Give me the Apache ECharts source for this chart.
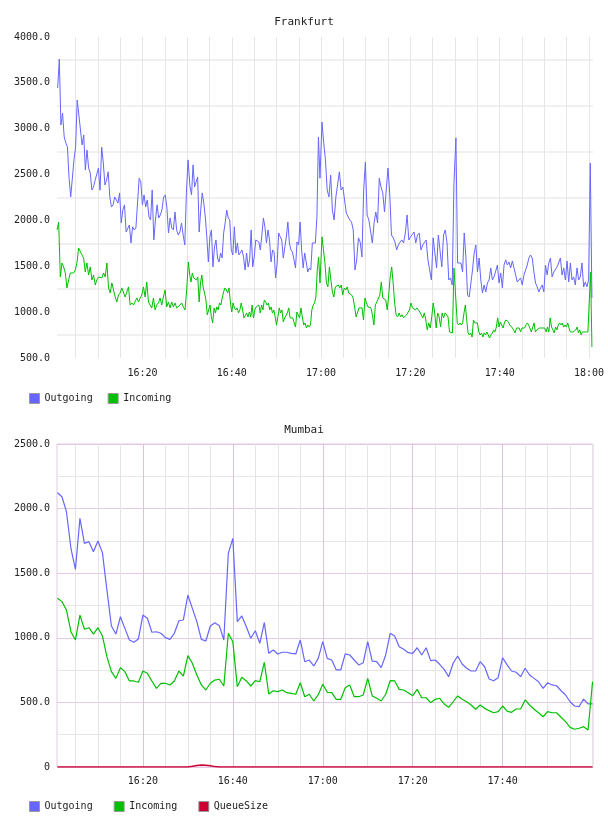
<!DOCTYPE html>
<html>
<head>
<meta charset="utf-8">
<script src="https://cdn.jsdelivr.net/npm/echarts@6/dist/echarts.min.js"></script>
<style>
  html, body { margin: 0; padding: 0; background: #fff; }
  #chart { width: 608px; height: 816px; }
</style>
</head>
<body>
<div id="chart"></div>
<script>
// Frankfurt, sampled roughly every 20 s, split in four stretches (minutes after 16:00)
const frOutA = [3444,3760,3040,3170,2910,2845,2800,2460,2256,2245,2660,2800,3313,3150,3150,2823,2932,2550,2768,2572,2517,2332,2365,2440,2460,2570,2330,2800,2626,2386,2440,2530,2256,2147,2170,2256,2245,2190,2300,1972,2114,2170,1874,1874,1950,1754,1930,1896,1918,1930,2460,2420,2170,2278,2147,2223,2038,2005,2332,1787,2005,2170,2027,2060,2114,2256,2278,2147,1863,2027,1918,1896,2092,1896,1841,1874,1972,1841,1733,2300,2660];
const frOutB = [2365,2278,2605,2365,2420,2474,1874,2114,2300,2190,2038,1820,1547,1820,1896,1493,1710,1787,1590,1547,1645,1590,1863,1972,2114,2027,2005,1678,1624,1930,1645,1754,1624,1645,1678,1602,1460,1645,1493,1570,1896,1493,1602,1787,1787,1765,1678,1841,2027,1930,1754,1896,1787,1547,1678,1656,1373,1536,1863,1820,1787,1590,1602,1820,1983,1754,1678,1656,1570,1482,1765,1733,1983,1678,1482,1645,1547,1438,1482,1460,1754,1765,1754,2038,2910,2460];
const frOutC = [3073,2845,2660,2332,2256,2495,2114,2005,2256,2245,2530,2332,2365,2365,2080,2060,2005,1983,1896,1460,1570,1810,1765,1602,2332,2637,2060,2005,2005,1754,1972,2092,1972,2460,2365,2300,2092,2332,2572,2300,1841,1810,1765,1678,1733,1765,1787,1754,1863,2060,1787,1820,1810,1874,1754,1841,1863,1678,1733,1754,1787,1570,1460,1351,1810,1820,1482,1841,1820,1493,1841,1896,1754,1351,1373,1296,2410];
const frOutD = [2900,1536,1536,1536,1438,1863,1602,1187,1165,1154,1460,1645,1733,1438,1590,1351,1209,1296,1220,1318,1351,1482,1351,1384,1384,1514,1318,1427,1264,1514,1570,1514,1547,1482,1558,1482,1493,1329,1318,1373,1296,1405,1460,1514,1590,1624,1590,1438,1318,1275,1220,1264,1296,1220,1514,1405,1536,1590,1384,1438,1438,1493,1514,1590,1405,1482,1351,1558,1329,1536,1351,1384,1296,1482,1351,1384,1536,1275,1329,1275,1351,2626,1154];
const frOutSpans = [[1.0, 30.2], [30.64, 59.75], [60.2, 89.76], [90.2, 120.66]];

const frInA = [1896,1983,1384,1536,1493,1427,1264,1351,1427,1438,1427,1460,1536,1700,1700,1624,1590,1438,1536,1405,1493,1351,1405,1296,1351,1384,1384,1373,1427,1384,1536,1264,1209,1318,1242,1165,1111,1187,1209,1264,1264,1165,1220,1275,1078,1100,1078,1057,1154,1111,1154,1187,1275,1165,1329,1111,1078,1046,1154,1024,1078,1100,1154,1078,1165,1242,1057,1111,1046,1111,1057,1100,1046,1057,1078,1100,1057,1024,1242,1547,1384];
const frInB = [1329,1427,1373,1384,1351,1384,1111,1318,1405,1264,1209,1133,970,1024,1078,948,882,1046,991,1057,1024,1100,1078,1154,1220,1264,1242,1209,1264,1111,1002,1100,1046,1024,1046,991,1024,1100,1024,937,937,991,948,1002,948,1078,937,1024,1057,1057,1078,991,1078,1024,1133,1111,1078,1100,1024,1057,991,1024,948,860,948,1046,991,1024,893,937,948,991,1046,937,948,937,882,838,1002,991,937,1046,948,860,882,827,860,838,860,1024,1078,1100,1165,1460,1602,1318];
const frInC = [1820,1678,1536,1318,1275,1493,1351,1220,1165,1275,1264,1296,1264,1296,1187,1264,1242,1275,1209,1209,1187,1154,1057,948,937,1046,1057,1046,915,1154,1100,1057,1057,1046,970,860,1078,1111,1100,1187,1329,1154,1165,1133,1024,1187,1384,1493,1318,1100,970,948,991,948,970,937,948,970,991,1024,1100,1046,1046,1024,1046,1024,1002,991,937,991,915,806,882,827,948,1100,991,827,991,948,838,991,937,991,991,948,784,773,773,1482];
const frInD = [1482,882,860,882,860,882,991,1078,915,773,751,773,729,915,882,893,882,784,751,773,729,773,751,784,751,718,751,773,806,784,838,937,838,893,860,827,882,915,915,893,860,860,827,827,773,827,806,827,784,827,838,827,860,882,860,860,784,773,882,784,806,806,827,806,827,806,827,784,838,784,937,838,806,773,838,806,860,882,860,882,838,860,838,882,827,784,773,784,773,806,838,773,806,751,784,773,784,773,784,773,1438,620];
const frInSpans = [[0.85, 30.64], [30.86, 59.75], [60.2, 89.76], [90.2, 120.66]];

// Mumbai, one sample per minute from 16:01 to 18:00
const mumOut = [2123,2092,1976,1693,1530,1925,1731,1744,1666,1749,1659,1370,1091,1029,1163,1073,983,965,991,1176,1151,1043,1047,1035,1001,988,1035,1132,1138,1331,1228,1125,988,975,1091,1117,1094,983,1654,1770,1125,1169,1086,996,1055,957,1117,880,906,875,888,888,880,875,983,815,828,782,841,970,841,828,751,751,875,867,828,790,807,970,820,815,769,867,1035,1014,931,911,885,880,923,867,923,823,828,795,756,699,803,859,797,764,743,743,815,776,681,668,691,846,790,743,733,699,764,712,686,660,609,652,635,629,590,557,505,472,467,526,488,488];
const mumIn = [1306,1280,1215,1047,983,1176,1066,1078,1029,1078,1014,854,738,686,769,738,666,666,656,743,725,666,609,648,648,635,666,743,704,862,803,712,635,596,648,673,679,627,1035,970,622,694,666,627,668,660,810,565,590,583,596,575,570,563,652,544,563,511,560,640,578,575,524,524,614,635,544,544,557,686,550,532,511,563,668,666,601,596,575,552,601,536,536,498,524,532,488,462,505,550,524,505,480,447,480,454,436,420,428,472,433,423,449,449,519,480,447,420,389,428,420,420,385,351,307,292,300,312,286,660];
const mumQueue = [
  0,0,0,0,0,0,0,0,0,0,0,0,0,0,0,0,0,0,0,0,
  0,0,0,0,0,0,0,0,0,0,5,12,15,14,10,3,0,0,0,0,
  0,0,0,0,0,0,0,0,0,0,0,0,0,0,0,0,0,0,0,0,
  0,0,0,0,0,0,0,0,0,0,0,0,0,0,0,0,0,0,0,0,
  0,0,0,0,0,0,0,0,0,0,0,0,0,0,0,0,0,0,0,0,
  0,0,0,0,0,0,0,0,0,0,0,0,0,0,0,0,0,0,0,0
];
const mumStart = 1; // first sample at 16:01

// axis ticks (minutes after 16:00)
const gridMinutes = [5,10,15,20,25,30,35,40,45,50,55,60,65,70,75,80,85,90,95,100,105,110,115,120];
const majorMinutes = [20, 40, 60, 80, 100];
const frLabelMinutes = [20, 40, 60, 80, 100, 120];
const mumLabelMinutes = [20, 40, 60, 80, 100];

const BLUE = '#6666ff', GREEN = '#00c000', RED = '#cc0033';
const MONO = 'DejaVu Sans Mono';

function spread(vals, span) {
  const step = (span[1] - span[0]) / (vals.length - 1);
  return vals.map((v, i) => [span[0] + i * step, v]);
}
function join(parts, spans) {
  let out = [];
  parts.forEach((p, i) => { out = out.concat(spread(p, spans[i])); });
  return out;
}
function hhmm(m) {
  const h = 16 + Math.floor(m / 60), mm = Math.round(m % 60);
  return h + ':' + (mm < 10 ? '0' + mm : mm);
}
function yfmt(v) { return v === 0 ? '0' : v.toFixed(1); }

const frOut = join([frOutA, frOutB, frOutC, frOutD], frOutSpans);
const frIn = join([frInA, frInB, frInC, frInD], frInSpans);
const perMinute = arr => arr.map((v, i) => [mumStart + i, v]);

const labelStyle = { color: '#222', fontFamily: MONO, fontSize: 10 };

const chart = echarts.init(document.getElementById('chart'));
chart.setOption({
  animation: false,
  backgroundColor: '#fff',
  title: [
    { text: 'Frankfurt', left: 'center', top: 12, textStyle: { fontFamily: MONO, fontSize: 11, fontWeight: 'normal', color: '#222' } },
    { text: 'Mumbai', left: 'center', top: 420, textStyle: { fontFamily: MONO, fontSize: 11, fontWeight: 'normal', color: '#222' } }
  ],
  legend: [
    { data: ['Outgoing', 'Incoming'], left: 24, top: 388, itemWidth: 10, itemHeight: 10, itemGap: 15, icon: 'rect',
      itemStyle: { borderColor: '#999', borderWidth: 1 }, textStyle: labelStyle },
    { data: ['Outgoing', 'Incoming', 'QueueSize'], left: 24, top: 796, itemWidth: 10, itemHeight: 10, itemGap: 21, icon: 'rect',
      itemStyle: { borderColor: '#999', borderWidth: 1 }, textStyle: labelStyle }
  ],
  grid: [
    { left: 57, top: 37, width: 536, height: 321 },
    { left: 57, top: 444, width: 536, height: 323, show: true, borderColor: '#e3c9e3', borderWidth: 1 }
  ],
  xAxis: [
    { type: 'value', gridIndex: 0, min: 0.85, max: 120.9,
      axisLine: { show: false }, axisTick: { show: false, customValues: gridMinutes },
      axisLabel: { customValues: frLabelMinutes, formatter: hhmm, margin: 10, ...labelStyle },
      splitLine: { show: true, lineStyle: { color: '#e6e6e6', width: 1 } } },
    { type: 'value', gridIndex: 1, min: 0.9, max: 120.1,
      axisLine: { show: false }, axisTick: { show: false, customValues: gridMinutes },
      axisLabel: { customValues: mumLabelMinutes, formatter: hhmm, margin: 9, ...labelStyle },
      splitLine: { show: true, lineStyle: { color: '#e4e4e4', width: 1 } } },
    // pink major lines every 20 minutes on the Mumbai grid
    { type: 'value', gridIndex: 1, min: 0.9, max: 120.1, position: 'bottom',
      axisLine: { show: false }, axisTick: { show: false, customValues: majorMinutes },
      axisLabel: { show: false },
      splitLine: { show: true, lineStyle: { color: '#dcc2dc', width: 1 } } }
  ],
  yAxis: [
    { type: 'value', gridIndex: 0, min: 500, max: 4000, interval: 500,
      axisLine: { show: false }, axisTick: { show: false },
      axisLabel: { formatter: yfmt, margin: 7, ...labelStyle },
      splitLine: { show: false },
      minorTick: { show: false, splitNumber: 2 },
      minorSplitLine: { show: true, lineStyle: { color: '#ececec', width: 1.5 } } },
    { type: 'value', gridIndex: 1, min: 0, max: 2500, interval: 500,
      axisLine: { show: false }, axisTick: { show: false },
      axisLabel: { formatter: yfmt, margin: 7, ...labelStyle },
      splitLine: { show: true, lineStyle: { color: '#e3c9e3', width: 1 } },
      minorTick: { show: false, splitNumber: 2 },
      minorSplitLine: { show: true, lineStyle: { color: '#e6e6e6', width: 1 } } }
  ],
  series: [
    { name: 'Outgoing', type: 'line', xAxisIndex: 0, yAxisIndex: 0, data: frOut, symbol: 'none',
      lineStyle: { color: BLUE, width: 1 }, itemStyle: { color: BLUE } },
    { name: 'Incoming', type: 'line', xAxisIndex: 0, yAxisIndex: 0, data: frIn, symbol: 'none',
      lineStyle: { color: GREEN, width: 1 }, itemStyle: { color: GREEN } },
    { name: 'Outgoing', type: 'line', xAxisIndex: 1, yAxisIndex: 1, data: perMinute(mumOut), symbol: 'none',
      lineStyle: { color: BLUE, width: 1.2 }, itemStyle: { color: BLUE } },
    { name: 'Incoming', type: 'line', xAxisIndex: 1, yAxisIndex: 1, data: perMinute(mumIn), symbol: 'none',
      lineStyle: { color: GREEN, width: 1.2 }, itemStyle: { color: GREEN } },
    { name: 'QueueSize', type: 'line', xAxisIndex: 1, yAxisIndex: 1, data: perMinute(mumQueue), symbol: 'none',
      lineStyle: { color: RED, width: 1.5 }, itemStyle: { color: RED } }
  ]
});
</script>
</body>
</html>
